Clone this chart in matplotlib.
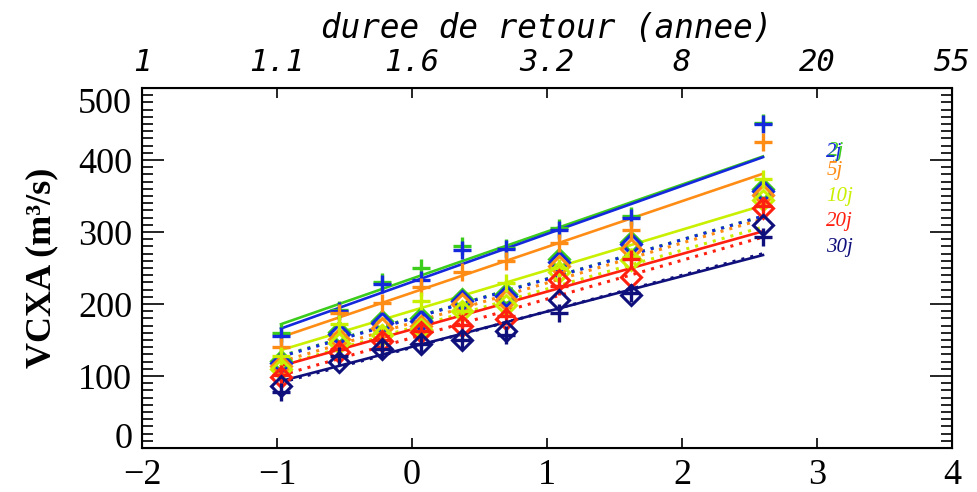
import matplotlib
matplotlib.use("Agg")
import matplotlib.pyplot as plt
import numpy as np

# Gumbel reduced variate of each sample (plotting positions)
u = [-0.97, -0.54, -0.22, 0.07, 0.37, 0.70, 1.09, 1.62, 2.60]

series_names = ["1j", "2j", "5j", "10j", "20j", "30j"]
colors = ["#3ccc1c", "#1428dc", "#ff8c14", "#c8f000", "#ff2010", "#10107c"]

# crosses (VCX sample)
plus_green = [160, 191, 231, 250, 280, 278, 306, 322, 452]
plus_blue = [156, 190, 228, 234, 275, 277, 303, 320, 450]
plus_orange = [140, 187, 201, 223, 245, 260, 285, 303, 425]
plus_yellow = [128, 172, 160, 204, 190, 229, 250, 265, 373]
plus_red = [102, 138, 150, 162, 171, 184, 225, 263, 336]
plus_navy = [78, 128, 138, 145, 150, 157, 187, 215, 293]

# diamonds (second sample)
dia_green = [121, 161, 176, 180, 207, 214, 262, 286, 360]
dia_blue = [118, 158, 173, 176, 204, 211, 259, 283, 357]
dia_orange = [114, 152, 167, 170, 200, 206, 253, 277, 351]
dia_yellow = [110, 146, 157, 165, 190, 199, 245, 261, 344]
dia_red = [98, 134, 148, 161, 170, 179, 234, 238, 333]
dia_navy = [86, 120, 138, 144, 150, 162, 206, 213, 310]

# fitted Gumbel lines: values at the first and last reduced variate
fit_u = [-0.97, 2.60]
fit_solid = [[172, 405], [166, 404], [154, 381], [136, 337], [114, 301], [93, 268]]
fit_dotted = [[128, 322], [127, 322], [120, 318], [115, 307], [101, 293], [91, 270]]

plus_all = [plus_green, plus_blue, plus_orange, plus_yellow, plus_red, plus_navy]
dia_all = [dia_green, dia_blue, dia_orange, dia_yellow, dia_red, dia_navy]

legend_labels = ["2j", "2j", "5j", "10j", "20j", "30j"]

top_tick_pos = [-2, -1, 0, 1, 2, 3, 4]
top_tick_labels = ["1", "1.1", "1.6", "3.2", "8", "20", "55"]

fig = plt.figure(figsize=(9.77, 4.92), dpi=100)
ax = fig.add_axes([0.1453, 0.0894, 0.8291, 0.7317])

for i in range(6):
    c = colors[i]
    ax.plot(u, plus_all[i], ls="none", marker="+", ms=12.5, mew=2.4, color=c, zorder=3 + i * 0.01)
    ax.plot(u, dia_all[i], ls="none", marker="D", ms=10, mew=2.2, mfc="none", mec=c, zorder=3 + i * 0.01)
    ax.plot(fit_u, fit_solid[i], ls="-", lw=1.9, color=c, zorder=2 + i * 0.01)
    ax.plot(fit_u, fit_dotted[i], ls=(0, (1, 2)), lw=2.2, color=c, zorder=2 + i * 0.01)

ax.set_xlim(-2, 4)
ax.set_ylim(0, 500)

serif = "Liberation Serif"
ax.set_xticks(range(-2, 5))
ax.set_xticklabels(["\u22122", "\u22121", "0", "1", "2", "3", "4"], fontfamily=serif, fontsize=26)
ax.set_yticks(range(0, 501, 100))
ax.set_yticklabels([str(v) for v in range(0, 501, 100)], fontfamily=serif, fontsize=26)
ax.set_yticks(range(0, 501, 10), minor=True)
ax.tick_params(axis="y", which="major", direction="in", length=16, width=1.2, left=True, right=True, pad=7)
ax.tick_params(axis="y", which="minor", direction="in", length=8, width=1.2, left=True, right=True)
ax.tick_params(axis="x", which="major", direction="in", length=7, width=1.2, top=False, pad=8)
for lbl in ax.get_yticklabels():
    if lbl.get_text() == "500":
        lbl.set_va("top")
    elif lbl.get_text() == "0":
        lbl.set_va("baseline")
for s in ax.spines.values():
    s.set_linewidth(1.5)

ax.set_ylabel("VCXA (m\u00b3/s)", fontfamily=serif, fontsize=26, fontweight="bold", labelpad=14)

mono = "DejaVu Sans Mono"
top = ax.twiny()
top.set_xlim(-2, 4)
top.set_xticks(top_tick_pos)
top.set_xticklabels(top_tick_labels, fontfamily=mono, fontsize=22, fontstyle="oblique")
top.tick_params(axis="x", direction="in", length=7, width=1.2, pad=8)
top.set_xlabel("duree de retour (annee)", fontfamily=mono, fontsize=23.5, fontstyle="oblique", labelpad=7)

# legend labels at right
leg_y = [412, 411, 386, 349, 314, 279]
leg_dx = [0.012, 0.0, 0.0, 0.0, 0.0, 0.0]
for i in range(6):
    ax.text(3.07 + leg_dx[i], leg_y[i], legend_labels[i], color=colors[i], fontsize=15,
            fontfamily=serif, fontstyle="italic", va="center", ha="left", zorder=5 + i)

fig.savefig("out.png", dpi=100)
